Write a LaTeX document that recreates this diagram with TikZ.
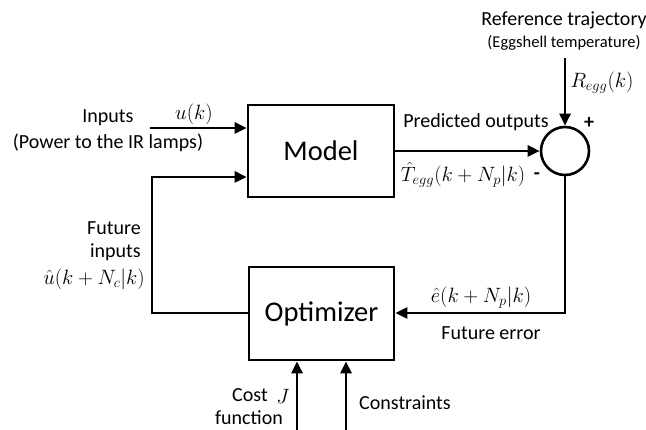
\documentclass[tikz,border=0pt]{standalone}
\usepackage{fontspec}
\setmainfont{Carlito}
\usetikzlibrary{arrows.meta}
\begin{document}
\begin{tikzpicture}[x=1pt,y=-1pt,
  wire/.style={line width=2.6pt},
  arr/.style={wire,-{Triangle[length=12pt,width=11pt]}},
  block/.style={draw,line width=2.6pt,inner sep=0pt,font=\fontsize{28.5}{30}\selectfont},
  lbl/.style={inner sep=0pt,font=\fontsize{20}{22}\selectfont},
  small/.style={inner sep=0pt,font=\fontsize{16.5}{18}\selectfont}]
\useasboundingbox (0,0) rectangle (646,430);

% blocks
\node[block,minimum width=146pt,minimum height=92pt] (model) at (321,151) {Model};
\node[block,minimum width=145pt,minimum height=93pt] (opt) at (321.5,313.5) {Optimizer};
\node[draw,circle,line width=2.6pt,minimum size=48pt,inner sep=0pt] (sum) at (565,151) {};

% free ends and corners
\coordinate (uin) at (150,128);
\coordinate (rin) at (565,58);
\coordinate (ecorner) at (565,313);
\coordinate (fb1) at (152,313);
\coordinate (fb2) at (152,177);
\coordinate (jin) at (297,430);
\coordinate (cin) at (346,430);

% connectors
\draw[arr] (uin) -- (uin -| model.west);
\draw[arr] (model.east |- sum.west) -- (sum.west);
\draw[arr] (rin) -- (sum.north);
\draw[arr] (sum.south) -- (ecorner) -- (ecorner -| opt.east);
\draw[arr] (fb1 -| opt.west) -- (fb1) -- (fb2) -- (fb2 -| model.west);
\draw[arr] (jin) -- (jin |- opt.south);
\draw[arr] (cin) -- (cin |- opt.south);

% labels
\node[lbl] (inputs) at (108,118) {Inputs};
\node[lbl] (power) at (108,143) {(Power to the IR lamps)};
\node[lbl] (u) at (194,114) {$u(k)$};
\node[lbl] (refname) at (564,20) {Reference trajectory};
\node[small] (egg) at (564,43) {(Eggshell temperature)};
\node[lbl] (regg) at (602,83) {$R_{egg}(k)$};
\node[lbl] (pred) at (476,122) {Predicted outputs};
\node[lbl] (that) at (463,175) {$\hat{T}_{egg}(k+N_p|k)$};
\node[lbl] (plus) at (589,123) {\textbf{+}};
\node[lbl] (minus) at (537,176) {\textbf{-}};
\node[lbl,anchor=east] (fut) at (141,228) {Future};
\node[lbl,anchor=east] (finp) at (141,252) {inputs};
\node[lbl,anchor=east] (uhat) at (145,279) {$\hat{u}(k+N_c|k)$};
\node[lbl] (ehat) at (481,298) {$\hat{e}(k+N_p|k)$};
\node[lbl] (ferr) at (491,333) {Future error};
\node[lbl] (cost) at (250,395) {Cost};
\node[lbl] (func) at (249,418) {function};
\node[lbl] (jj) at (283,396) {$J$};
\node[lbl] (cons) at (405,403) {Constraints};
\end{tikzpicture}
\end{document}
